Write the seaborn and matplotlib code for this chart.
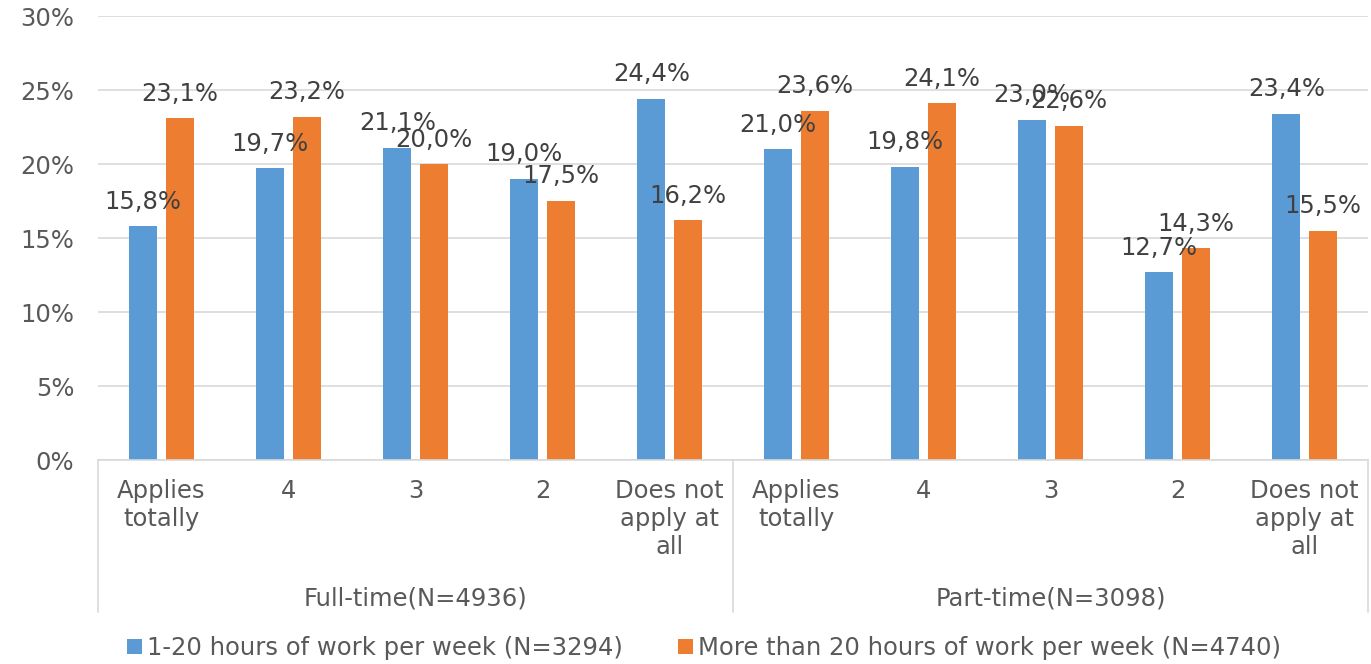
import matplotlib
matplotlib.use("Agg")
import matplotlib.pyplot as plt
import matplotlib.transforms as mtransforms
import seaborn as sns
import pandas as pd

# ---- data ----
groups = ["Full-time(N=4936)", "Part-time(N=3098)"]
categories = ["Applies\ntotally", "4", "3", "2", "Does not\napply at\nall"]
series = ["1-20 hours of work per week (N=3294)",
          "More than 20 hours of work per week (N=4740)"]
full_blue = [15.8, 19.7, 21.1, 19.0, 24.4]
full_orange = [23.1, 23.2, 20.0, 17.5, 16.2]
part_blue = [21.0, 19.8, 23.0, 12.7, 23.4]
part_orange = [23.6, 24.1, 22.6, 14.3, 15.5]
yticks = [0, 5, 10, 15, 20, 25, 30]
colors = ["#5B9BD5", "#ED7D31"]

rows = []
pos_labels = []
for gi, (g, b, o) in enumerate([(groups[0], full_blue, full_orange),
                                 (groups[1], part_blue, part_orange)]):
    for ci, c in enumerate(categories):
        key = f"{gi}-{ci}"
        pos_labels.append(key)
        rows.append({"pos": key, "series": series[0], "value": b[ci]})
        rows.append({"pos": key, "series": series[1], "value": o[ci]})
df = pd.DataFrame(rows)

sns.set_theme(style="white")
plt.rcParams["font.family"] = ["DejaVu Sans"]

FS = 17.5
fig = plt.figure(figsize=(13.71, 6.64), dpi=100)
ax = fig.add_axes([98 / 1371, (664 - 460) / 664, 1270 / 1371, 444 / 664])

sns.barplot(data=df, x="pos", y="value", hue="series", order=pos_labels,
            hue_order=series, palette=colors, width=0.573, gap=0.22,
            saturation=1, ax=ax, legend=True, errorbar=None, linewidth=0)

ax.set_xlim(-0.5, len(pos_labels) - 0.5)
ax.set_ylim(0, 30)
ax.set_yticks(yticks)
ax.set_yticklabels([f"{t}%" for t in yticks], fontsize=FS, color="#595959")
ax.set_xticks(range(len(pos_labels)))
ax.set_xticklabels(categories * 2, fontsize=FS, color="#595959", linespacing=1.2)
ax.tick_params(axis="y", length=0, pad=17)
ax.tick_params(axis="x", length=0, pad=14)
ax.set_xlabel("")
ax.set_ylabel("")
ax.grid(axis="y", color="#D9D9D9", linewidth=1.2)
ax.set_axisbelow(True)
for s in ["left", "right", "top"]:
    ax.spines[s].set_visible(False)
ax.spines["bottom"].set_color("#D9D9D9")
ax.spines["bottom"].set_linewidth(1.2)

for cont in ax.containers:
    ax.bar_label(cont, labels=[f"{v:.1f}%".replace(".", ",") for v in cont.datavalues],
                 padding=9, fontsize=FS, color="#404040")

# group labels and separators
trans = mtransforms.blended_transform_factory(ax.transData, ax.transAxes)
for gi, g in enumerate(groups):
    ax.text(gi * 5 + 2, -0.311, g, transform=trans, ha="center", va="center",
            fontsize=FS, color="#595959")
for xv in [-0.5, 4.5, 9.5]:
    ax.plot([xv, xv], [0, -0.342], transform=trans, color="#D9D9D9",
            linewidth=1.2, clip_on=False)

handles, labels = ax.get_legend_handles_labels()
ax.get_legend().remove()
fig.legend(handles, labels, loc="center", bbox_to_anchor=(704 / 1371, 1 - 648 / 664),
           ncol=2, frameon=False, fontsize=FS, handlelength=0.6, handleheight=0.6,
           handletextpad=0.2, columnspacing=2.3, labelcolor="#595959")

fig.savefig("out.png", dpi=100)
